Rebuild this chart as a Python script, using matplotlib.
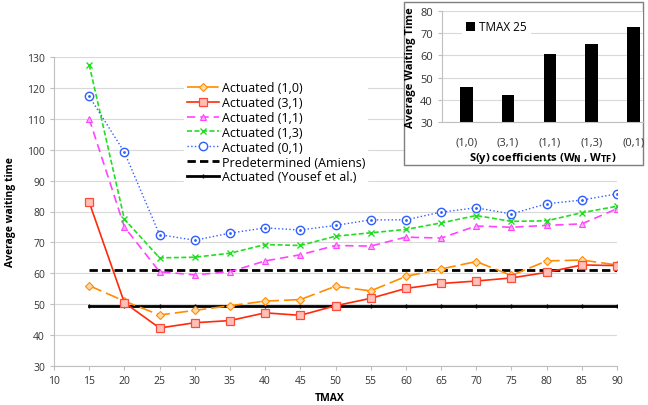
import matplotlib.pyplot as plt
from matplotlib.patches import Rectangle

tmax = [15, 20, 25, 30, 35, 40, 45, 50, 55, 60, 65, 70, 75, 80, 85, 90]
act_10 = [56, 51, 46.5, 48, 49.5, 51, 51.5, 55.8, 54.3, 59.0, 61.4, 63.8, 59.3, 64.0, 64.3, 62.7]
act_31 = [83, 50.5, 42.3, 44, 44.7, 47.2, 46.4, 49.5, 51.9, 55.1, 56.7, 57.5, 58.5, 60.3, 62.7, 62.5]
act_11 = [110, 75, 60.5, 59.5, 60.5, 64, 66, 69, 68.8, 71.7, 71.4, 75.3, 74.9, 75.5, 76, 80.9]
act_13 = [127.5, 77.5, 65, 65.2, 66.5, 69.3, 69, 72, 73.1, 74.2, 76.3, 78.7, 76.8, 77, 79.6, 81.7]
act_01 = [117.3, 99.2, 72.5, 70.7, 73, 74.7, 74, 75.5, 77.3, 77.3, 79.8, 81.2, 79.2, 82.5, 83.7, 85.7]
predetermined = 61
yousef = 49.5

bar_labels = ["(1,0)", "(3,1)", "(1,1)", "(1,3)", "(0,1)"]
bar_values = [46, 42.3, 60.5, 65, 72.7]

plt.rcParams["font.family"] = ["Open Sans", "DejaVu Sans"]

fig = plt.figure(figsize=(6.48, 4.06), dpi=100)
ax = fig.add_axes([54 / 648, 1 - 367 / 406, 563 / 648, 309 / 406])

grid_c = "#d9d9d9"
ax.set_axisbelow(True)
ax.yaxis.grid(True, color=grid_c, lw=0.8)

ax.plot(tmax, act_10, color="#ff8c00", lw=1.2, dashes=(8, 3), marker="D", ms=4,
        mfc="#ffd9a8", mec="#ff8c00", mew=0.8, label="Actuated (1,0)", zorder=4)
ax.plot(tmax, act_31, color="#ff2a0a", lw=1.2, marker="s", ms=6,
        mfc="#ffc0b8", mec="#ff4a3a", mew=0.9, label="Actuated (3,1)", zorder=4)
ax.plot(tmax, act_11, color="#ff44ff", lw=1.2, dashes=(5, 3), marker="^", ms=5,
        mfc="#ffb0ff", mec="#ff44ff", mew=0.8, label="Actuated (1,1)", zorder=4)
ax.plot(tmax, act_13, color="#22dd22", lw=1.2, dashes=(3, 1.5), marker="x", ms=5,
        mew=1.0, label="Actuated (1,3)", zorder=4)
ax.plot(tmax, act_01, color="#2f5fff", lw=1.0, ls=":", marker="o", ms=6,
        mfc="white", mec="#2f5fff", mew=1.0, label="Actuated (0,1)", zorder=4)
ax.plot(tmax, act_01, ls="none", marker=".", ms=2, color="#2f5fff", zorder=5)
ax.plot(tmax, [predetermined] * len(tmax), color="black", lw=2, dashes=(3, 1.5),
        label="Predetermined (Amiens)", zorder=3)
ax.plot(tmax, [yousef] * len(tmax), color="black", lw=2, marker="|", ms=3,
        label="Actuated (Yousef et al.)", zorder=3)

ax.set_xlim(10, 90)
ax.set_ylim(30, 130)
ax.set_xticks(range(10, 95, 5))
ax.set_yticks(range(30, 140, 10))
ax.tick_params(labelsize=7.5, color="#bfbfbf", length=3, colors="#333333")
ax.tick_params(axis="both", color="#bfbfbf")
for s in ["top", "right"]:
    ax.spines[s].set_visible(False)
for s in ["left", "bottom"]:
    ax.spines[s].set_color("#bfbfbf")
ax.set_xlabel("TMAX", fontsize=7.5, fontweight="bold")
ax.xaxis.set_label_coords(0.49, -0.085)
ax.set_ylabel("Average waiting time", fontsize=7.5, fontweight="bold", labelpad=8)

leg = ax.legend(loc="upper left", bbox_to_anchor=(0.22, 0.95), fontsize=9,
                frameon=True, framealpha=1, edgecolor="white", fancybox=False,
                handlelength=2.6, handletextpad=0.2, labelspacing=0.15,
                borderpad=0.2)
leg.set_zorder(6)

# inset
fig.patches.append(Rectangle((404 / 648, 1 - 166 / 406), 239 / 648, 163 / 406,
                             transform=fig.transFigure, facecolor="white",
                             edgecolor="#7f7f7f", lw=1, zorder=7))
ins = fig.add_axes([442 / 648, 1 - 123.3 / 406, 201 / 648, 111.6 / 406], zorder=8)
ins.set_facecolor("white")
ins.set_axisbelow(True)
ins.yaxis.grid(True, color=grid_c, lw=0.8)
ins.bar(range(len(bar_labels)), bar_values, width=0.3, color="black", label="TMAX 25")
ins.set_xlim(-0.58, 4.23)
ins.set_ylim(30, 80)
ins.set_yticks(range(30, 90, 10))
ins.set_xticks(range(len(bar_labels)))
ins.set_xticklabels(bar_labels)
ins.tick_params(labelsize=8, colors="#333333")
ins.tick_params(axis="x", length=0, pad=10)
ins.tick_params(axis="y", color="#bfbfbf", length=3)
for s in ["top", "right"]:
    ins.spines[s].set_visible(False)
ins.spines["bottom"].set_color("#bfbfbf")
ins.spines["left"].set_color("#bfbfbf")
ins.set_ylabel("Average Waiting Time", fontsize=8, fontweight="bold", labelpad=3)
ins.set_xlabel(r"S(y) coefficients (W$_\mathbf{N}$ , W$_\mathbf{TF}$)", fontsize=8,
               fontweight="bold", labelpad=2)
ins.legend(loc="upper left", bbox_to_anchor=(0.07, 1.0), fontsize=8.5, frameon=True,
           framealpha=1, edgecolor="white", fancybox=False, handlelength=0.8,
           handleheight=0.8, handletextpad=0.3, borderpad=0.3)

fig.savefig("out.png", dpi=100)
